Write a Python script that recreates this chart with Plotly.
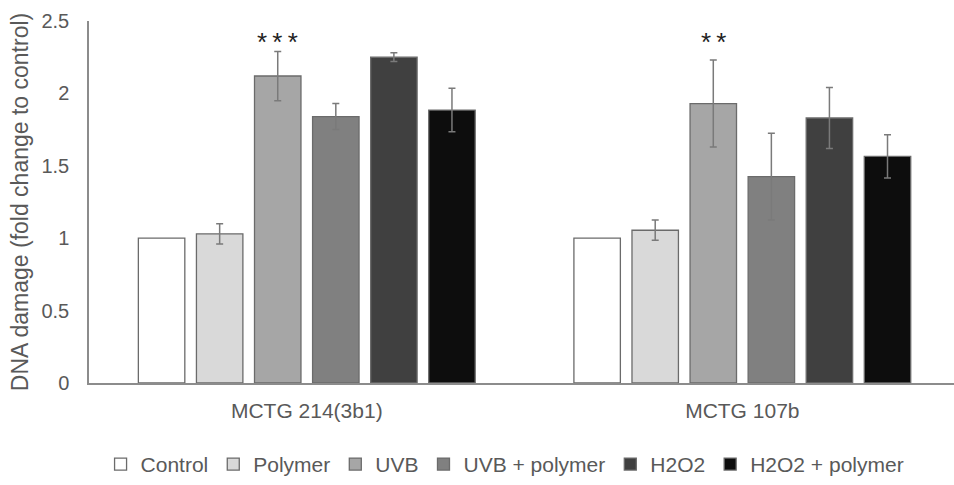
import plotly.graph_objects as go

categories = ["MCTG 214(3b1)", "MCTG 107b"]
series_names = ["Control", "Polymer", "UVB", "UVB + polymer", "H2O2", "H2O2 + polymer"]
control = [1.00, 1.00]
polymer = [1.03, 1.055]
uvb = [2.12, 1.93]
uvb_polymer = [1.84, 1.425]
h2o2 = [2.25, 1.83]
h2o2_polymer = [1.885, 1.565]

control_err = [0, 0]
polymer_err = [0.07, 0.07]
uvb_err = [0.17, 0.30]
uvb_polymer_err = [0.09, 0.30]
h2o2_err = [0.03, 0.21]
h2o2_polymer_err = [0.15, 0.15]

significance = ["*\u2009*\u2009*", "*\u2009*"]
significance_y = [2.24, 2.235]
significance_series = 2  # UVB

colors = ["#ffffff", "#d9d9d9", "#a6a6a6", "#808080", "#404040", "#0d0d0d"]
values = [control, polymer, uvb, uvb_polymer, h2o2, h2o2_polymer]
errors = [control_err, polymer_err, uvb_err, uvb_polymer_err, h2o2_err, h2o2_polymer_err]

FONT = "Liberation Sans, Arial, sans-serif"
BARGAP = 0.2
BARGROUPGAP = 0.2

fig = go.Figure()
for name, vals, errs, col in zip(series_names, values, errors, colors):
    show_err = any(e > 0 for e in errs)
    fig.add_trace(go.Bar(
        name=name,
        x=categories,
        y=vals,
        marker=dict(color=col, line=dict(color="#6b6b6b", width=1.3)),
        error_y=dict(type="data", array=errs, visible=show_err,
                     color="#7a7a7a", thickness=1.5, width=3.5),
    ))

n = len(series_names)
slot = (1 - BARGAP) / n
for gi, (txt, yv) in enumerate(zip(significance, significance_y)):
    fig.add_annotation(
        x=gi + (significance_series - (n - 1) / 2) * slot,
        y=yv, xref="x", yref="y", text=txt, showarrow=False,
        yanchor="bottom", font=dict(family=FONT, size=26, color="#222222"),
    )

fig.update_layout(
    width=954, height=485,
    margin=dict(l=89, r=0, t=21, b=100),
    plot_bgcolor="white", paper_bgcolor="white",
    barmode="group", bargap=BARGAP, bargroupgap=BARGROUPGAP,
    font=dict(family=FONT, color="#595959"),
    showlegend=True,
    legend=dict(orientation="h", x=0.481, xanchor="center", y=-0.225, yanchor="middle",
                font=dict(family=FONT, size=21, color="#595959"),
                itemwidth=30, traceorder="normal"),
)
fig.update_xaxes(
    range=[-0.5, 1.486], showline=True, linecolor="#8c8c8c", linewidth=1.5,
    ticks="", showgrid=False, tickfont=dict(size=21, color="#595959"),
    ticklabelstandoff=8, automargin=False,
)
fig.update_yaxes(
    range=[0, 2.5], dtick=0.5, showline=True, linecolor="#8c8c8c", linewidth=1.5,
    ticks="", showgrid=False, zeroline=False,
    tickfont=dict(size=20, color="#595959"),
    ticklabelstandoff=14, automargin=False,
    title=dict(text="DNA damage (fold change to control)",
               font=dict(size=23, color="#595959"), standoff=6),
)

fig.write_html(
    "out.html",
    config={"displayModeBar": False},
    post_script="document.body.style.margin='0';document.body.style.overflow='hidden';",
)
